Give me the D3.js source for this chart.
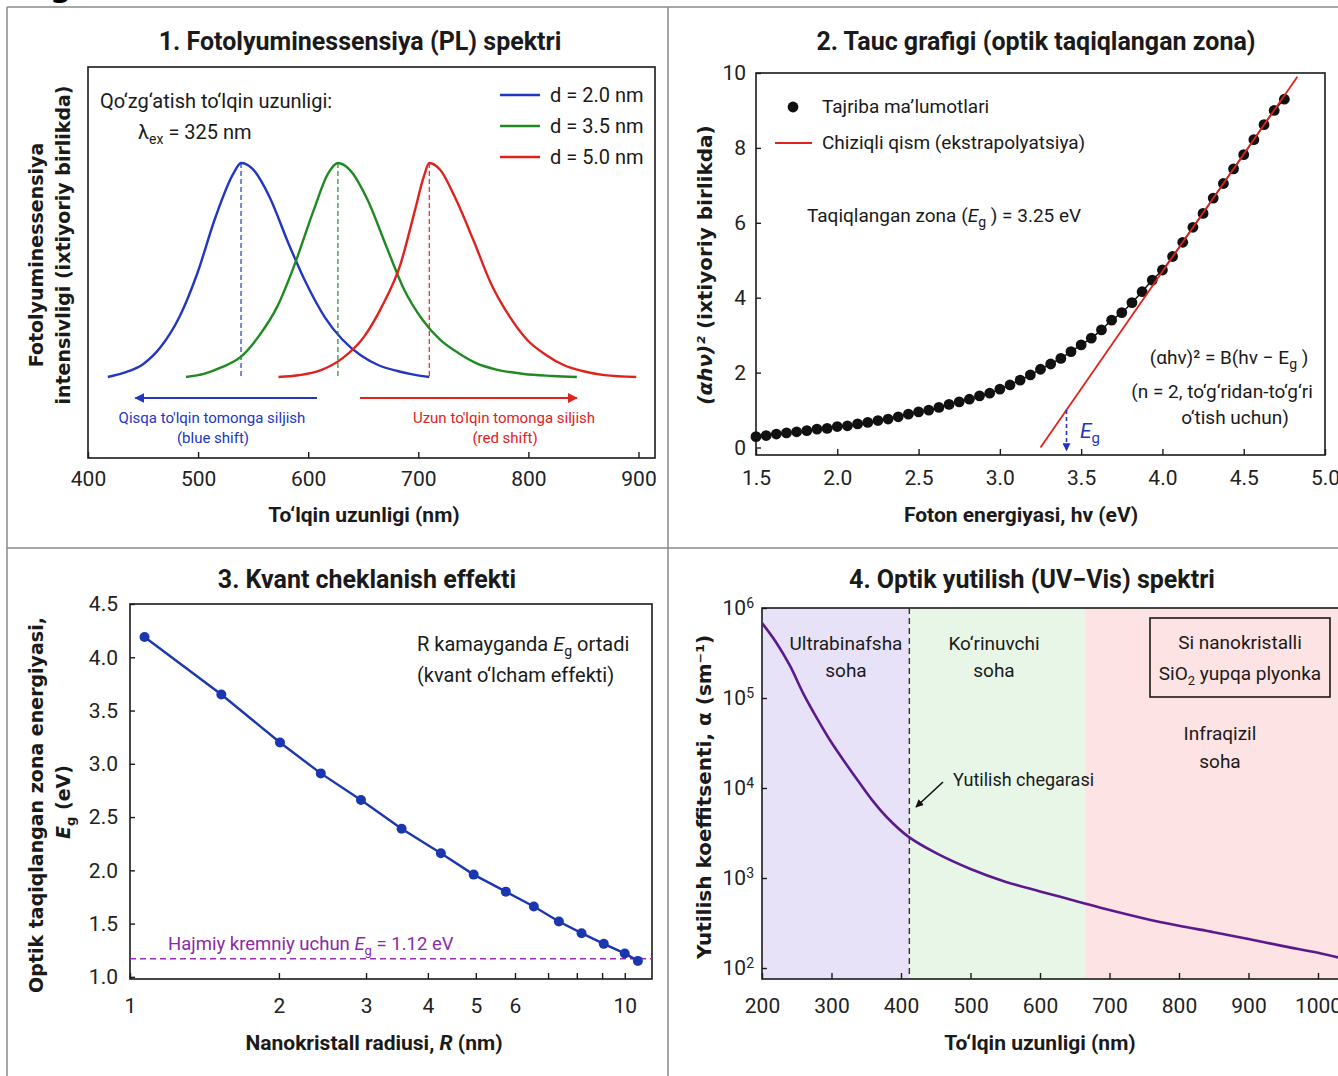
<!DOCTYPE html>
<html>
<head>
<meta charset="utf-8">
<script src="https://cdn.jsdelivr.net/npm/d3@7"></script>
<style>
  body { margin: 0; background: #fff; }
  svg { display: block; }
</style>
</head>
<body>
<div id="fig"></div>
<script>
// ---------- data ----------

// 1. PL spectra (wavelength nm, normalised intensity)
var blueNm  = [418, 433, 450, 466, 483, 499, 516, 532, 539, 549, 565, 582, 598, 615, 631, 648, 664, 681, 697, 710];
var blueI   = [0, 0.02, 0.06, 0.14, 0.28, 0.48, 0.75, 0.95, 1.0, 0.975, 0.84, 0.625, 0.44, 0.28, 0.175, 0.10, 0.055, 0.028, 0.01, 0];
var greenNm = [489, 506, 522, 539, 555, 572, 588, 605, 618, 627, 638, 654, 671, 687, 704, 720, 737, 753, 770, 796, 822, 844];
var greenI  = [0, 0.016, 0.047, 0.095, 0.19, 0.33, 0.53, 0.78, 0.95, 1.0, 0.967, 0.827, 0.61, 0.41, 0.266, 0.173, 0.11, 0.064, 0.036, 0.014, 0.005, 0];
var redNm   = [573, 591, 611, 631, 651, 667, 684, 697, 705, 710, 720, 733, 750, 766, 783, 799, 816, 832, 849, 869, 898];
var redI    = [0, 0.008, 0.031, 0.087, 0.19, 0.33, 0.53, 0.78, 0.936, 1.0, 0.967, 0.843, 0.64, 0.437, 0.282, 0.173, 0.103, 0.056, 0.028, 0.009, 0];
var plPeaks = [539, 627, 710];
var plLabels = ["d = 2.0 nm", "d = 3.5 nm", "d = 5.0 nm"];

// 2. Tauc plot (photon energy eV, (alpha h nu)^2)
var taucE = [1.5, 1.5625, 1.625, 1.6875, 1.75, 1.8125, 1.875, 1.9375, 2.0, 2.0625, 2.125, 2.1875, 2.25, 2.3125,
             2.375, 2.4375, 2.5, 2.5625, 2.625, 2.6875, 2.75, 2.8125, 2.875, 2.9375, 3.0, 3.0625, 3.125, 3.1875,
             3.25, 3.3125, 3.375, 3.4375, 3.5, 3.5625, 3.625, 3.6875, 3.75, 3.8125, 3.875, 3.9375, 4.0, 4.0625,
             4.125, 4.1875, 4.25, 4.3125, 4.375, 4.4375, 4.5, 4.5625, 4.625, 4.6875, 4.75];
var taucV = [0.29, 0.32, 0.36, 0.39, 0.42, 0.45, 0.49, 0.51, 0.56, 0.58, 0.63, 0.67, 0.72, 0.76,
             0.82, 0.89, 0.95, 1.00, 1.07, 1.15, 1.22, 1.29, 1.38, 1.45, 1.56, 1.67, 1.80, 1.94,
             2.09, 2.23, 2.38, 2.56, 2.74, 2.92, 3.14, 3.40, 3.60, 3.87, 4.16, 4.47, 4.74, 5.10,
             5.48, 5.88, 6.25, 6.66, 7.05, 7.44, 7.82, 8.22, 8.62, 9.00, 9.30];
var fitE = [3.25, 4.83];
var fitV = [0, 9.9];
var egArrowE = 3.41;

// 3. Quantum confinement (radius nm, Eg eV)
var radiusNm = [1.07, 1.53, 2.01, 2.43, 2.93, 3.54, 4.25, 4.95, 5.75, 6.55, 7.36, 8.18, 9.07, 10.0, 10.63];
var bandGap  = [4.19, 3.65, 3.20, 2.91, 2.66, 2.39, 2.16, 1.96, 1.80, 1.66, 1.52, 1.41, 1.31, 1.22, 1.15];
var bulkSiLine = 1.17;

// 4. UV-Vis absorption (wavelength nm, alpha sm^-1)
var absNm    = [200, 220, 240, 260, 280, 300, 320, 340, 360, 380, 410, 450, 500, 550, 600, 650, 700, 750, 800, 850, 900, 950, 1000, 1040];
var absAlpha = [680000, 420000, 230000, 110000, 58000, 32000, 19000, 11500, 7100, 4700, 2900, 1900, 1260, 910, 710, 560, 440, 355, 295, 250, 210, 175, 148, 125];
var regionFrom  = [200, 412, 665];
var regionTo    = [412, 665, 1040];
var regionColor = ["#e8e2f8", "#e7f6e6", "#fde3e3"];
var absEdgeNm = 412;

// ---------- drawing ----------
var W = 1338, H = 1076;
var NARROW = "'Liberation Sans Narrow', 'Roboto', sans-serif";
var BOLDF = "'DejaVu Sans', Verdana, sans-serif";

var svg = d3.select("#fig").append("svg")
    .attr("width", W)
    .attr("height", H)
    .style("font-family", NARROW);

svg.append("rect").attr("width", W).attr("height", H).attr("fill", "#fff");

var defs = svg.append("defs");
function marker(id, color) {
    defs.append("marker")
        .attr("id", id)
        .attr("viewBox", "0 0 10 10")
        .attr("refX", 9).attr("refY", 5)
        .attr("markerWidth", 5).attr("markerHeight", 5)
        .attr("orient", "auto-start-reverse")
        .append("path").attr("d", "M0,0 L10,5 L0,10 z").attr("fill", color);
}
marker("arBlue", "#2236c4");
marker("arRed", "#e0221e");
marker("arBlack", "#111");
marker("arEg", "#1f35c0");

// cropped title remnant and panel frames
svg.append("text").attr("x", 50).attr("y", -3).attr("font-size", 30)
    .attr("font-weight", "bold").attr("font-family", BOLDF).text("g");
var frame = svg.append("g").attr("stroke", "#8a8a8a").attr("stroke-width", 1.5);
frame.append("line").attr("x1", 7).attr("x2", W).attr("y1", 7).attr("y2", 7);
frame.append("line").attr("x1", 7).attr("x2", W).attr("y1", 548).attr("y2", 548);
frame.append("line").attr("x1", 7).attr("x2", 7).attr("y1", 7).attr("y2", H);
frame.append("line").attr("x1", 668).attr("x2", 668).attr("y1", 7).attr("y2", H);

function title(x, y, s) {
    svg.append("text").attr("x", x).attr("y", y).attr("text-anchor", "middle")
        .attr("font-size", 25).attr("font-weight", "bold").attr("fill", "#1a1a1a").text(s);
}
function xLabel(x, y, s) {
    return svg.append("text").attr("x", x).attr("y", y).attr("text-anchor", "middle")
        .attr("font-size", 21).attr("font-weight", "bold").attr("fill", "#1a1a1a").text(s);
}
function yLabel(x, y, size) {
    return svg.append("text").attr("transform", "translate(" + x + "," + y + ") rotate(-90)")
        .attr("text-anchor", "middle").attr("font-family", BOLDF).attr("font-weight", "bold")
        .attr("font-size", size).attr("fill", "#1a1a1a");
}
function note(x, y, s, size, color, anchor) {
    return svg.append("text").attr("x", x).attr("y", y).attr("font-size", size)
        .attr("fill", color || "#1a1a1a").attr("text-anchor", anchor || "start").text(s);
}
function box(x0, y0, x1, y1) {
    svg.append("rect").attr("x", x0).attr("y", y0).attr("width", x1 - x0).attr("height", y1 - y0)
        .attr("fill", "none").attr("stroke", "#1a1a1a").attr("stroke-width", 1.6);
}
function styleAxis(g, size) {
    g.select(".domain").remove();
    g.selectAll(".tick line").attr("stroke", "#1a1a1a").attr("stroke-width", 1.4);
    g.selectAll(".tick text").attr("font-size", size).attr("fill", "#222").attr("font-family", NARROW);
}

// ===== Panel 1 =====
var x1 = d3.scaleLinear().domain([400, 915]).range([88, 655]);
var y1 = d3.scaleLinear().domain([0, 1]).range([377, 163]);
title(360, 50, "1. Fotolyuminessensiya (PL) spektri");
box(88, 67, 655, 458);
svg.append("g").attr("transform", "translate(0,458)")
    .call(d3.axisBottom(x1).tickValues([400, 500, 600, 700, 800, 900]).tickSizeInner(-6).tickSizeOuter(0).tickPadding(13))
    .call(function (g) { styleAxis(g, 21); });

var plColors = ["#2236c4", "#1f8a22", "#e0221e"];
var plSeries = [[blueNm, blueI], [greenNm, greenI], [redNm, redI]];
var plLine = d3.line().x(function (d) { return x1(d[0]); }).y(function (d) { return y1(d[1]); })
    .curve(d3.curveMonotoneX);
plSeries.forEach(function (s, i) {
    var pts = s[0].map(function (v, k) { return [v, s[1][k]]; });
    svg.append("path").datum(pts).attr("d", plLine).attr("fill", "none")
        .attr("stroke", plColors[i]).attr("stroke-width", 2.4);
    svg.append("line").attr("x1", x1(plPeaks[i])).attr("x2", x1(plPeaks[i]))
        .attr("y1", y1(1)).attr("y2", y1(0)).attr("stroke", plColors[i])
        .attr("stroke-width", 1.2).attr("stroke-dasharray", "5,3");
    svg.append("line").attr("x1", 500).attr("x2", 540).attr("y1", 95 + i * 31).attr("y2", 95 + i * 31)
        .attr("stroke", plColors[i]).attr("stroke-width", 2.4);
    note(550, 102 + i * 31, plLabels[i], 20);
});
note(100, 108, "Qo\u2018zg\u2018atish to\u2018lqin uzunligi:", 20);
var lam = note(138, 139, "\u03BB", 20);
lam.append("tspan").attr("dy", 5).attr("font-size", 14).text("ex");
lam.append("tspan").attr("dy", -5).text(" = 325 nm");

svg.append("line").attr("x1", x1(608)).attr("x2", x1(443)).attr("y1", 398).attr("y2", 398)
    .attr("stroke", "#2236c4").attr("stroke-width", 2).attr("marker-end", "url(#arBlue)");
svg.append("line").attr("x1", x1(647)).attr("x2", x1(844)).attr("y1", 398).attr("y2", 398)
    .attr("stroke", "#e0221e").attr("stroke-width", 2).attr("marker-end", "url(#arRed)");
note(212, 423, "Qisqa to'lqin tomonga siljish", 15, "#2236c4", "middle");
note(213, 443, "(blue shift)", 15, "#2236c4", "middle");
note(504, 423, "Uzun to'lqin tomonga siljish", 15, "#e0221e", "middle");
note(505, 443, "(red shift)", 15, "#e0221e", "middle");

xLabel(364, 522, "To\u2018lqin uzunligi (nm)");
yLabel(43, 255, 19).text("Fotolyuminessensiya");
yLabel(70, 245, 19).text("intensivligi (ixtiyoriy birlikda)");

// ===== Panel 2 =====
var x2 = d3.scaleLinear().domain([1.5, 5.0]).range([756, 1325]);
var y2 = d3.scaleLinear().domain([-0.2, 10]).range([455, 73]);
title(1036, 50, "2. Tauc grafigi (optik taqiqlangan zona)");
box(756, 73, 1325, 455);
svg.append("g").attr("transform", "translate(0,455)")
    .call(d3.axisBottom(x2).tickValues([1.5, 2, 2.5, 3, 3.5, 4, 4.5, 5]).tickFormat(d3.format(".1f"))
        .tickSizeInner(-6).tickSizeOuter(0).tickPadding(15))
    .call(function (g) { styleAxis(g, 21); });
svg.append("g").attr("transform", "translate(756,0)")
    .call(d3.axisLeft(y2).tickValues([0, 2, 4, 6, 8, 10]).tickSizeInner(-5).tickSizeOuter(0).tickPadding(10))
    .call(function (g) { styleAxis(g, 21); });

var taucPts = taucE.map(function (e, i) { return [e, taucV[i]]; });
svg.append("path").datum(taucPts)
    .attr("d", d3.line().x(function (d) { return x2(d[0]); }).y(function (d) { return y2(d[1]); }).curve(d3.curveMonotoneX))
    .attr("fill", "none").attr("stroke", "#111").attr("stroke-width", 1.5);
svg.append("g").selectAll("circle").data(taucPts).join("circle")
    .attr("cx", function (d) { return x2(d[0]); }).attr("cy", function (d) { return y2(d[1]); })
    .attr("r", 5.4).attr("fill", "#111");
svg.append("line").attr("x1", x2(fitE[0])).attr("y1", y2(fitV[0])).attr("x2", x2(fitE[1])).attr("y2", y2(fitV[1]))
    .attr("stroke", "#e0221e").attr("stroke-width", 1.8);
svg.append("line").attr("x1", x2(egArrowE)).attr("x2", x2(egArrowE)).attr("y1", y2(1.0)).attr("y2", y2(-0.08))
    .attr("stroke", "#1f35c0").attr("stroke-width", 1.6).attr("stroke-dasharray", "4,3")
    .attr("marker-end", "url(#arEg)");
var egT = note(1080, 438, "", 21, "#1f35c0");
egT.append("tspan").attr("font-style", "italic").text("E");
egT.append("tspan").attr("dy", 5).attr("font-size", 15).text("g");

svg.append("circle").attr("cx", 793).attr("cy", 107).attr("r", 5.4).attr("fill", "#111");
note(822, 113, "Tajriba ma\u2019lumotlari", 19);
svg.append("line").attr("x1", 775).attr("x2", 812).attr("y1", 143).attr("y2", 143)
    .attr("stroke", "#e0221e").attr("stroke-width", 1.8);
note(822, 149, "Chiziqli qism (ekstrapolyatsiya)", 19);

var tz = note(807, 222, "Taqiqlangan zona (", 19);
tz.append("tspan").attr("font-style", "italic").text("E");
tz.append("tspan").attr("dy", 5).attr("font-size", 14).text("g");
tz.append("tspan").attr("dy", -5).text(" ) = 3.25 eV");

var eq = note(1229, 364, "(\u03B1h\u03BD)\u00B2 = B(h\u03BD \u2212 E", 19, "#1a1a1a", "middle");
eq.append("tspan").attr("dy", 5).attr("font-size", 14).text("g");
eq.append("tspan").attr("dy", -5).text(" )");
note(1222, 398, "(n = 2, to\u2018g\u2018ridan-to\u2018g\u2018ri", 19, "#1a1a1a", "middle");
note(1235, 424, "o\u2018tish uchun)", 19, "#1a1a1a", "middle");

xLabel(1021, 522, "Foton energiyasi, h\u03BD (eV)");
var yl2 = yLabel(712, 265, 20);
yl2.append("tspan").attr("font-style", "italic").text("(\u03B1h\u03BD)\u00B2");
yl2.append("tspan").text(" (ixtiyoriy birlikda)");

// ===== Panel 3 =====
var x3 = d3.scaleLog().domain([1, 11.3]).range([130, 651]);
var y3 = d3.scaleLinear().domain([0.98, 4.5]).range([979, 604]);
title(367, 588, "3. Kvant cheklanish effekti");
box(130, 604, 652, 979);
svg.append("g").attr("transform", "translate(0,979)")
    .call(d3.axisBottom(x3).tickValues([1, 2, 3, 4, 5, 6, 7, 8, 9, 10])
        .tickFormat(function (d) { return [7, 8, 9].indexOf(d) >= 0 ? "" : d; })
        .tickSizeInner(-6).tickSizeOuter(0).tickPadding(19))
    .call(function (g) { styleAxis(g, 21); });
svg.append("g").attr("transform", "translate(130,0)")
    .call(d3.axisLeft(y3).tickValues([1, 1.5, 2, 2.5, 3, 3.5, 4, 4.5]).tickFormat(d3.format(".1f"))
        .tickSizeInner(-5).tickSizeOuter(0).tickPadding(12))
    .call(function (g) { styleAxis(g, 21); });

svg.append("line").attr("x1", 130).attr("x2", 652).attr("y1", y3(bulkSiLine)).attr("y2", y3(bulkSiLine))
    .attr("stroke", "#9a2fb6").attr("stroke-width", 1.6).attr("stroke-dasharray", "6,4");
var qPts = radiusNm.map(function (r, i) { return [r, bandGap[i]]; });
svg.append("path").datum(qPts)
    .attr("d", d3.line().x(function (d) { return x3(d[0]); }).y(function (d) { return y3(d[1]); }))
    .attr("fill", "none").attr("stroke", "#1b37b0").attr("stroke-width", 2.4);
svg.append("g").selectAll("circle").data(qPts).join("circle")
    .attr("cx", function (d) { return x3(d[0]); }).attr("cy", function (d) { return y3(d[1]); })
    .attr("r", 5).attr("fill", "#1b37b0");

var hk = note(168, 950, "Hajmiy kremniy uchun ", 18.5, "#8a2aa8");
hk.append("tspan").attr("font-style", "italic").text("E");
hk.append("tspan").attr("dy", 5).attr("font-size", 13).text("g");
hk.append("tspan").attr("dy", -5).text(" = 1.12 eV");

var rk = note(417, 651, "R kamayganda ", 20);
rk.append("tspan").attr("font-style", "italic").text("E");
rk.append("tspan").attr("dy", 5).attr("font-size", 14).text("g");
rk.append("tspan").attr("dy", -5).text(" ortadi");
note(417, 682, "(kvant o\u2018lcham effekti)", 20);

var xl3 = xLabel(374, 1050, "Nanokristall radiusi, ");
xl3.append("tspan").attr("font-style", "italic").text("R");
xl3.append("tspan").text(" (nm)");
yLabel(43, 805, 19).text("Optik taqiqlangan zona energiyasi,");
var yl3 = yLabel(70, 802, 19);
yl3.append("tspan").attr("font-style", "italic").text("E");
yl3.append("tspan").attr("font-size", 13).attr("dy", 5).text("g");
yl3.append("tspan").attr("dy", -5).text(" (eV)");

// ===== Panel 4 =====
var x4 = d3.scaleLinear().domain([200, 1040]).range([762, 1345.8]);
var y4 = d3.scaleLog().domain([75.5, 1e6]).range([979, 608]);
title(1032, 588, "4. Optik yutilish (UV\u2212Vis) spektri");
regionFrom.forEach(function (a, i) {
    svg.append("rect").attr("x", x4(a)).attr("y", 608).attr("width", x4(regionTo[i]) - x4(a))
        .attr("height", 979 - 608).attr("fill", regionColor[i]);
});
box(762, 608, 1345, 979);
svg.append("g").attr("transform", "translate(0,979)")
    .call(d3.axisBottom(x4).tickValues([200, 300, 400, 500, 600, 700, 800, 900, 1000]).tickFormat(d3.format("d"))
        .tickSizeInner(-6).tickSizeOuter(0).tickPadding(19))
    .call(function (g) { styleAxis(g, 21); });
svg.append("g").attr("transform", "translate(762,0)")
    .call(d3.axisLeft(y4).tickValues([1e2, 1e3, 1e4, 1e5, 1e6]).tickSizeInner(-5).tickSizeOuter(0).tickPadding(8)
        .tickFormat(function () { return ""; }))
    .call(function (g) { styleAxis(g, 21); })
    .call(function (g) {
        g.selectAll(".tick text").each(function (d) {
            var t = d3.select(this);
            t.text("10");
            t.append("tspan").attr("dy", "-0.55em").attr("font-size", 14).text(Math.round(Math.log10(d)));
        });
    });

svg.append("line").attr("x1", x4(absEdgeNm)).attr("x2", x4(absEdgeNm)).attr("y1", 608).attr("y2", 979)
    .attr("stroke", "#333").attr("stroke-width", 1.4).attr("stroke-dasharray", "6,4");
var absPts = absNm.map(function (w, i) { return [w, absAlpha[i]]; });
svg.append("path").datum(absPts)
    .attr("d", d3.line().x(function (d) { return x4(d[0]); }).y(function (d) { return y4(d[1]); })
        .curve(d3.curveCatmullRom.alpha(0.5)))
    .attr("fill", "none").attr("stroke", "#5a1a8e").attr("stroke-width", 2.6);

note(846, 650, "Ultrabinafsha", 19, "#1a1a1a", "middle");
note(846, 677, "soha", 19, "#1a1a1a", "middle");
note(994, 650, "Ko\u2018rinuvchi", 19, "#1a1a1a", "middle");
note(994, 677, "soha", 19, "#1a1a1a", "middle");
note(1220, 740, "Infraqizil", 19, "#1a1a1a", "middle");
note(1220, 768, "soha", 19, "#1a1a1a", "middle");
svg.append("rect").attr("x", 1150).attr("y", 618).attr("width", 180).attr("height", 79)
    .attr("fill", "none").attr("stroke", "#1a1a1a").attr("stroke-width", 1.6);
note(1240, 649, "Si nanokristalli", 19, "#1a1a1a", "middle");
var sio = note(1240, 680, "SiO", 19, "#1a1a1a", "middle");
sio.append("tspan").attr("dy", 5).attr("font-size", 13).text("2");
sio.append("tspan").attr("dy", -5).text(" yupqa plyonka");

svg.append("line").attr("x1", 943).attr("y1", 782).attr("x2", 916).attr("y2", 807)
    .attr("stroke", "#111").attr("stroke-width", 1.6).attr("marker-end", "url(#arBlack)");
note(953, 786, "Yutilish chegarasi", 18);

xLabel(1040, 1050, "To\u2018lqin uzunligi (nm)");
yLabel(711, 797, 20).text("Yutilish koeffitsenti, \u03B1 (sm\u207B\u00B9)");
</script>
</body>
</html>
